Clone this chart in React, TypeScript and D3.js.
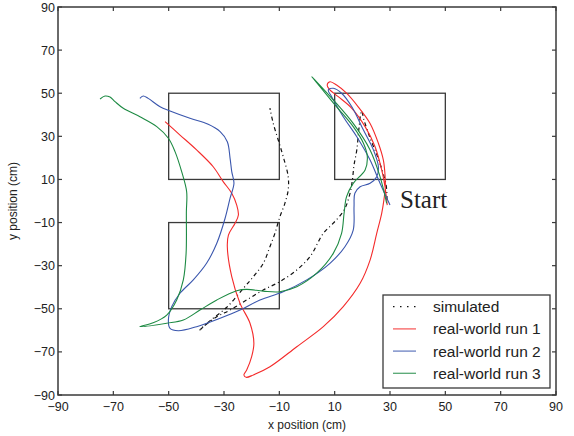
import React from 'react'
import * as d3 from 'd3'

// tick values shared by both axes
const ticks = [-90, -70, -50, -30, -10, 10, 30, 50, 70, 90]

// obstacle boxes [x0, y0, x1, y1]
const boxes = [
  [-50, 10, -10, 50],
  [-50, -50, -10, -10],
  [10, 10, 50, 50]
]

const simulated = [
  [28.9, 0.5], [28.6, 7.4], [25.7, 19.9], [22.8, 29.2], [20.6, 37.6], [19.7, 41.8],
  [18.8, 33.9], [18.0, 23.7], [17.0, 16.7], [16.4, 9.7], [15.4, 2.8], [13.4, -4.2],
  [9.5, -10.3], [5.9, -15.0], [1.1, -25.8], [-3.7, -32.0], [-9.8, -37.4], [-15.8, -41.3],
  [-21.8, -45.9], [-27.8, -50.6], [-32.6, -53.7], [-37.5, -58.3], [-38.7, -59.8],
  [-35.1, -55.6], [-29.0, -49.3], [-23.0, -40.5], [-19.4, -35.1], [-15.8, -28.9],
  [-13.4, -21.2], [-11.6, -15.0], [-9.8, -7.3], [-8.0, -1.1], [-6.8, 5.1], [-6.8, 11.3],
  [-8.6, 20.6], [-10.4, 28.3], [-12.2, 36.0], [-13.4, 43.1]
]

const run1 = [
  [-51.3, 36.8], [-45.9, 30.6], [-39.9, 23.7], [-33.9, 15.9], [-30.3, 9.0], [-27.2, 3.6],
  [-25.4, -1.9], [-24.8, -6.5], [-26.0, -10.3], [-28.4, -15.8], [-28.8, -21.2],
  [-27.2, -35.1], [-24.2, -47.5], [-20.6, -56.7], [-19.2, -66.0], [-20.0, -72.2],
  [-21.8, -78.4], [-22.8, -80.7], [-22.0, -81.8], [-19.4, -80.7], [-13.4, -76.9],
  [-3.7, -67.6], [5.9, -58.3], [13.1, -49.0], [19.2, -38.2], [22.8, -27.4], [25.2, -15.0],
  [27.0, -5.7], [27.8, 0.5], [28.3, 6.6], [28.2, 12.1], [27.6, 19.0], [25.8, 26.8],
  [22.8, 36.0], [18.5, 43.7], [14.3, 50.0], [10.7, 53.8], [8.3, 55.3], [7.3, 53.8],
  [8.1, 51.8], [11.3, 48.4], [16.2, 43.0], [21.0, 34.5], [24.6, 25.2], [27.0, 14.4],
  [28.2, 6.6], [29.0, -1.9]
]

const run2 = [
  [-60.4, 47.6], [-59.2, 48.7], [-57.4, 47.6], [-53.1, 43.7], [-49.5, 41.8], [-42.3, 38.4],
  [-35.7, 35.6], [-31.4, 32.2], [-28.8, 27.5], [-27.8, 19.8], [-27.2, 13.6], [-26.4, 8.2],
  [-27.8, 1.3], [-29.6, -8.0], [-32.6, -19.6], [-36.3, -28.9], [-41.1, -36.6],
  [-45.9, -42.8], [-48.9, -49.0], [-50.1, -55.2], [-49.5, -59.1], [-46.5, -60.2],
  [-39.9, -58.3], [-31.4, -54.4], [-24.2, -50.6], [-17.0, -45.9], [-8.6, -42.1],
  [-0.1, -36.6], [8.3, -28.9], [13.7, -21.2], [16.7, -13.5], [17.0, -2.6], [17.3, 3.6],
  [19.2, 6.6], [22.8, 8.2], [25.2, 11.3], [25.8, 15.9], [24.0, 23.7], [20.4, 32.9],
  [16.2, 43.7], [12.5, 50.0], [9.5, 52.3], [7.7, 51.5], [8.9, 48.4], [13.1, 39.1],
  [18.0, 29.8], [22.8, 19.0], [26.4, 8.2], [30.0, -1.9]
]

const run3 = [
  [-74.8, 47.3], [-73.0, 48.7], [-71.2, 48.2], [-69.4, 46.1], [-66.4, 43.0], [-60.4, 39.1],
  [-54.3, 34.5], [-50.1, 29.1], [-47.7, 22.9], [-45.3, 13.6], [-43.5, 4.3], [-43.6, -5.0],
  [-43.7, -24.3], [-44.7, -36.6], [-47.1, -45.9], [-50.7, -52.9], [-55.6, -56.5],
  [-60.4, -58.3], [-50.7, -56.7], [-44.7, -55.2], [-38.7, -50.6], [-32.6, -45.9],
  [-25.4, -41.6], [-21.8, -41.0], [-15.8, -41.8], [-9.8, -42.1], [-3.7, -39.8],
  [3.5, -33.5], [9.5, -24.3], [12.5, -15.0], [13.4, -5.7], [14.3, 2.0], [16.7, 8.2],
  [21.0, 14.4], [21.8, 20.6], [20.4, 26.8], [16.7, 34.5], [10.7, 43.7], [4.7, 53.0],
  [1.7, 57.7], [2.9, 56.1], [9.5, 46.9], [16.7, 36.0], [22.8, 23.7], [26.4, 11.3],
  [28.8, -1.1]
]

const seriesNames = ['simulated', 'real-world run 1', 'real-world run 2', 'real-world run 3']
const seriesData = [simulated, run1, run2, run3]
const seriesColors = ['#111111', '#f42a2a', '#3a56ad', '#1d8a43']

const fmt = (v: number) => (v < 0 ? '\u2212' + Math.abs(v) : String(v))

export default function App () {
  const width = 574
  const height = 436
  const margin = { top: 7, right: 18, bottom: 41, left: 58 }
  const x = d3.scaleLinear().domain([-90, 90]).range([margin.left, width - margin.right])
  const y = d3.scaleLinear().domain([-90, 90]).range([height - margin.bottom, margin.top])

  const line = d3.line<number[]>()
    .x(d => x(d[0]))
    .y(d => y(d[1]))
    .curve(d3.curveCatmullRom.alpha(0.5))

  const axisColor = '#3a3a3a'
  const tickLen = 4
  const font = 'Liberation Sans, Arial, sans-serif'
  const [x0, x1] = x.range()
  const [y0, y1] = y.range()

  // legend placement
  const lg = { x: 383, y: 295, w: 167, h: 93, row: 22.2 }

  return (
    <svg width={width} height={height} style={{ position: 'absolute', left: 0, top: 0 }}>
      <rect width={width} height={height} fill='#fff' />

      {/* obstacle boxes */}
      {boxes.map((b, i) => (
        <rect key={i} x={x(b[0])} y={y(b[3])} width={x(b[2]) - x(b[0])} height={y(b[1]) - y(b[3])}
          fill='none' stroke={axisColor} strokeWidth={1.3} />
      ))}

      {/* trajectories */}
      {seriesData.map((d, i) => (
        <path key={i} d={line(d) || ''} fill='none' stroke={seriesColors[i]}
          strokeWidth={i === 0 ? 1.2 : 1.1}
          strokeDasharray={i === 0 ? '4,3,1,3' : undefined} />
      ))}

      {/* frame and inward ticks */}
      <rect x={x0} y={y1} width={x1 - x0} height={y0 - y1} fill='none' stroke={axisColor} strokeWidth={1.5} />
      {ticks.map(t => (
        <g key={'t' + t} stroke={axisColor} strokeWidth={1.2}>
          <line x1={x(t)} x2={x(t)} y1={y0} y2={y0 - tickLen} />
          <line x1={x(t)} x2={x(t)} y1={y1} y2={y1 + tickLen} />
          <line x1={x0} x2={x0 + tickLen} y1={y(t)} y2={y(t)} />
          <line x1={x1} x2={x1 - tickLen} y1={y(t)} y2={y(t)} />
        </g>
      ))}

      {/* tick labels */}
      {ticks.map(t => (
        <text key={'xl' + t} x={x(t)} y={y0 + 16} textAnchor='middle' fontFamily={font} fontSize={12.5} fill='#222'>{fmt(t)}</text>
      ))}
      {ticks.map(t => (
        <text key={'yl' + t} x={x0 - 3} y={y(t) + 4.5} textAnchor='end' fontFamily={font} fontSize={12.5} fill='#222'>{fmt(t)}</text>
      ))}

      {/* axis titles */}
      <text x={(x0 + x1) / 2} y={429} textAnchor='middle' fontFamily={font} fontSize={12} fill='#222'>x position (cm)</text>
      <text transform={`translate(17,${(y0 + y1) / 2}) rotate(-90)`} textAnchor='middle' fontFamily={font} fontSize={12} fill='#222'>y position (cm)</text>

      {/* start marker */}
      <text x={400} y={208} fontFamily='Liberation Serif, Times New Roman, serif' fontSize={25} fill='#222'>Start</text>

      {/* legend */}
      <rect x={lg.x} y={lg.y} width={lg.w} height={lg.h} fill='#fff' stroke={axisColor} strokeWidth={1.3} />
      {seriesNames.map((name, i) => {
        const cy = lg.y + 11.7 + i * lg.row
        return (
          <g key={name}>
            <line x1={lg.x + 10} x2={lg.x + 33} y1={cy} y2={cy} stroke={seriesColors[i]}
              strokeWidth={i === 0 ? 1.2 : 1.3} strokeOpacity={i === 0 ? 1 : 0.75}
              strokeDasharray={i === 0 ? '1.5,5.5' : undefined} />
            <text x={lg.x + 50} y={cy + 5.5} fontFamily={font} fontSize={15.5} fill='#222'>{name}</text>
          </g>
        )
      })}
    </svg>
  )
}
